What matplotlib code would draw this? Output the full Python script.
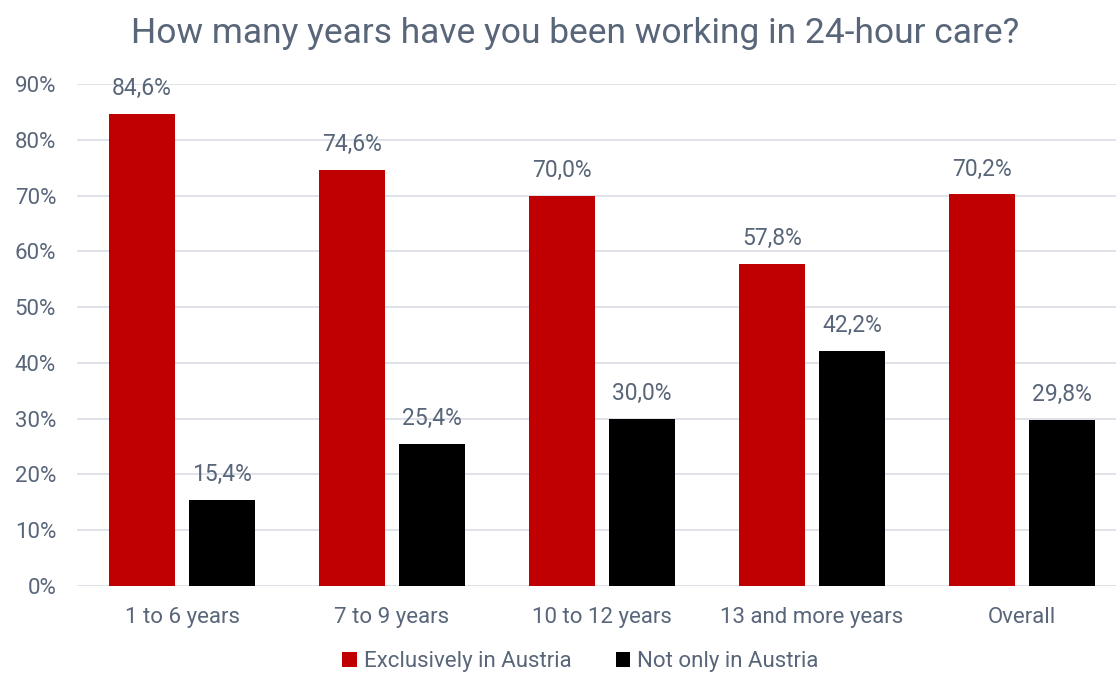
import matplotlib.pyplot as plt
import numpy as np

plt.rcParams['font.family'] = ['Roboto', 'DejaVu Sans']

categories = ['1 to 6 years', '7 to 9 years', '10 to 12 years', '13 and more years', 'Overall']
exclusively = [84.6, 74.6, 70.0, 57.8, 70.2]
not_only = [15.4, 25.4, 30.0, 42.2, 29.8]
series_names = ['Exclusively in Austria', 'Not only in Austria']

text_col = '#596679'
red = '#C00000'
black = '#000000'

fig = plt.figure(figsize=(11.16, 6.77), dpi=100)
ax = fig.add_axes([0.069, 0.1344, 0.941, 0.7415])

x = np.arange(len(categories))
w = 0.315
off = 0.19
b1 = ax.bar(x - off, exclusively, w, color=red, label=series_names[0], zorder=3)
b2 = ax.bar(x + off, not_only, w, color=black, label=series_names[1], zorder=3)

# value labels with decimal comma
for bars, vals in ((b1, exclusively), (b2, not_only)):
    for rect, v in zip(bars, vals):
        ax.annotate(f'{v:.1f}%'.replace('.', ','),
                    (rect.get_x() + rect.get_width() / 2, v),
                    xytext=(0, 10), textcoords='offset points',
                    ha='center', va='bottom', fontsize=16.5, color=text_col)

ax.set_xlim(-0.5, 4.5)
ax.set_ylim(0, 90)
ax.set_yticks(np.arange(0, 91, 10))
ax.set_yticklabels([f'{t}%' for t in range(0, 91, 10)])
ax.set_xticks(x)
ax.set_xticklabels(categories)
ax.tick_params(axis='both', length=0, labelsize=16, colors=text_col)
ax.tick_params(axis='y', pad=15)
ax.tick_params(axis='x', pad=15)
ax.grid(axis='y', color='#D9DDE5', linewidth=1.2, zorder=0)
for s in ax.spines.values():
    s.set_visible(False)

fig.suptitle('How many years have you been working in 24-hour care?',
             x=0.515, y=0.975, fontsize=25.5, color=text_col)

fig.legend(handles=[b1, b2], loc='lower center', bbox_to_anchor=(0.52, -0.022),
           ncol=2, frameon=False, fontsize=16, labelcolor=text_col,
           handlelength=0.65, handleheight=0.65, handletextpad=0.3, columnspacing=2.0)

fig.savefig('out.png', dpi=100)
